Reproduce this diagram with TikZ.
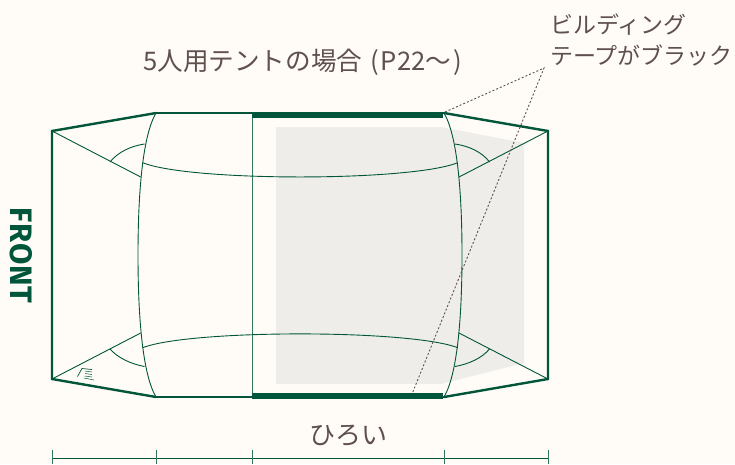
\documentclass[tikz,border=0pt]{standalone}
\usepackage{fontspec}
\newfontfamily\cjk{Noto Sans CJK JP}
\newfontfamily\frontfont[LetterSpace=3]{Fira Sans}
\usetikzlibrary{backgrounds,fit,arrows}
\definecolor{paper}{HTML}{FFFCF7}
\definecolor{tent}{HTML}{00553A}
\definecolor{ink}{HTML}{5F504D}
\definecolor{floorgrey}{HTML}{EEEDEA}

\begin{document}
\begin{tikzpicture}
		[x=1pt,y=-1pt,
		 label/.style= {inner sep=0pt,text=ink,font=\cjk\fontsize{23}{31}\selectfont},
		 biglabel/.style= {label,font=\cjk\fontsize{25.6}{31}\selectfont},
		 outer/.style= {draw=tent,line width=2.4pt,line join=miter},
		 edgeline/.style= {draw=tent,line width=1.7pt},
		 tape/.style= {draw=tent,line width=6pt},
		 thin/.style= {draw=tent,line width=0.9pt},
		 lead/.style= {draw=ink,line width=0.9pt,dash pattern=on 2pt off 2pt}]

		\useasboundingbox[fill=paper] (0,0) rectangle (735,464);

		% floor
		\fill[floorgrey] (276,127) -- (441,127) -- (524,143) -- (524,363) -- (441,384) -- (276,384) -- cycle;

		% corners
		\coordinate (a) at (52,131);
		\coordinate (b) at (156,113);
		\coordinate (c) at (444,113);
		\coordinate (d) at (548,131);
		\coordinate (e) at (548,379);
		\coordinate (f) at (444,397);
		\coordinate (g) at (156,397);
		\coordinate (h) at (52,379);
		\coordinate (m0) at (252,113);
		\coordinate (m1) at (252,397);

		% walls
		\path[thin] (b) .. controls (143,135) and (138,190) .. (138,255)
			.. controls (138,320) and (143,375) .. (g);
		\path[thin] (c) .. controls (457,135) and (462,190) .. (462,255)
			.. controls (462,320) and (457,375) .. (f);
		\path[thin,draw=tent!80,line width=1pt] (m0) -- (m1);

		% ridges
		\coordinate (r0) at (142.7,162.7);
		\coordinate (r1) at (457.7,162.7);
		\coordinate (r2) at (142.7,347.7);
		\coordinate (r3) at (457.7,347.7);
		\path[thin] (r0) .. controls (190,181.7) and (410,181.7) .. (r1);
		\path[thin] (r2) .. controls (190,329.3) and (410,329.3) .. (r3);

		% guys
		\coordinate (s0) at (140.7,177);
		\coordinate (s1) at (459,177);
		\coordinate (s2) at (140.7,333);
		\coordinate (s3) at (459,333);
		\path[thin] (a) -- (s0);
		\path[thin] (d) -- (s1);
		\path[thin] (h) -- (s2);
		\path[thin] (e) -- (s3);

		% arcs
		\coordinate (t0) at (110,162);
		\coordinate (t1) at (489.5,162);
		\coordinate (t2) at (110,349);
		\coordinate (t3) at (489.5,349);
		\path[thin] (t0) .. controls (118,152) and (131,146) .. (144.5,144);
		\path[thin] (t1) .. controls (482,152) and (469,146) .. (455,144);
		\path[thin] (t2) .. controls (118,358) and (131,364) .. (144.5,366.5);
		\path[thin] (t3) .. controls (482,358) and (469,364) .. (455,366.5);

		% outline
		\path[outer] (b) -- (a) -- (h) -- (g);
		\path[outer] (c) -- (d) -- (e) -- (f);
		\path[edgeline] (b) -- (c);
		\path[edgeline] (g) -- (f);
		\coordinate (u0) at (252,115);
		\coordinate (u1) at (443,115);
		\coordinate (u2) at (252,396);
		\coordinate (u3) at (443,396);
		\path[tape] (u0) -- (u1);
		\path[tape] (u2) -- (u3);

		% small mark
		\draw[tent,line width=0.7pt] (77.5,376.5) -- (82,368.5) -- (92,369.5);
		\draw[tent,line width=0.5pt] (85,371) -- (92,372) (85,373.5) -- (92,374.5) (84.5,376) -- (92,377) (84,378) -- (94,380);

		% labels
		\node[biglabel,anchor=west] (title) at (143,62) {5人用テントの場合\kern8pt(\kern2pt P22～\kern2pt)};
		\node[label,anchor=north west,align=left] (tapelabel) at (550,14) {ビルディング\\テープがブラック};
		\node[biglabel,anchor=center,font=\cjk\fontsize{26}{31}\selectfont] (wide) at (348,436) {ひろい};
		\node[inner sep=0pt,text=tent,rotate=-90,font=\frontfont\bfseries\fontsize{31}{31}\selectfont] (front) at (21,255.5) {FRONT};

		% leader
		\coordinate (l0) at (445,112);
		\coordinate (l1) at (544,68);
		\coordinate (l2) at (412,394);
		\path[lead] (l0) -- (l1) -- (l2);

		% width scale
		\coordinate (w0) at (52,458.5);
		\coordinate (w1) at (548.5,458.5);
		\path[thin] (w0) -- (w1);
		\foreach \tx/\tn in {52/k0,156.7/k1,252/k2,444/k3,548.5/k4}
			{\coordinate (\tn a) at (\tx,450);
			 \coordinate (\tn b) at (\tx,464);
			 \path[thin,draw=tent!80,line width=1pt] (\tn a) -- (\tn b);}

	\end{tikzpicture}
\end{document}
